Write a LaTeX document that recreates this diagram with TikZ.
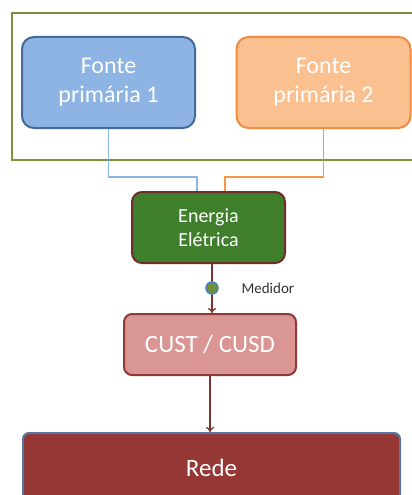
\documentclass[tikz,border=0pt]{standalone}
\usepackage{fontspec}
\setmainfont{Carlito}
\usetikzlibrary{arrows.meta}
\definecolor{fonteumfill}{HTML}{8EB4E3}
\definecolor{fonteumdraw}{HTML}{44699B}
\definecolor{fontedoisfill}{HTML}{FAC090}
\definecolor{fontedoisdraw}{HTML}{F38B3F}
\definecolor{quadroverde}{HTML}{77933C}
\definecolor{energiafill}{HTML}{3F7F2C}
\definecolor{energiadraw}{HTML}{6E2E2A}
\definecolor{custfill}{HTML}{D99694}
\definecolor{custdraw}{HTML}{8C3B38}
\definecolor{redefill}{HTML}{953735}
\definecolor{rededraw}{HTML}{5A76A0}
\definecolor{medidorfill}{HTML}{6F8F3A}
\definecolor{medidordraw}{HTML}{4F81BD}
\definecolor{linhaazul}{HTML}{8EB4E3}
\definecolor{linhalaranja}{HTML}{F79646}
\definecolor{seta}{HTML}{7A3431}
\tikzset{
    caixa/.style={rounded corners=12pt, line width=2pt, text=white, align=center, inner sep=0pt},
    seta/.style={draw=seta, line width=1.3pt, -{To[length=5pt,width=8pt]}}
}
\begin{document}
\begin{tikzpicture}[x=1pt, y=-1pt]
    \clip (0,0) rectangle (412,495);
    \fill[white] (0,0) rectangle (412,495);
    \draw[quadroverde, line width=2pt] (12,13) rectangle (430,160);
    \node[caixa, fill=fonteumfill, draw=fonteumdraw, minimum width=173pt, minimum height=91pt,
        font=\fontsize{24}{29}\selectfont] (fonte1) at (108.5,82.5) {Fonte\\primária 1};
    \node[caixa, fill=fontedoisfill, draw=fontedoisdraw, minimum width=174pt, minimum height=91pt,
        font=\fontsize{24}{29}\selectfont] (fonte2) at (323.5,82.5) {Fonte\\primária 2};
    \node[caixa, rounded corners=10pt, fill=energiafill, draw=energiadraw, minimum width=153pt, minimum height=71pt,
        font=\fontsize{20}{24}\selectfont] (energia) at (208.5,227.5) {Energia\\Elétrica};
    \node[caixa, rounded corners=8pt, fill=custfill, draw=custdraw, minimum width=172pt, minimum height=61pt,
        font=\fontsize{25}{30}\selectfont] (cust) at (210,344.5) {CUST / CUSD};
    \node[caixa, rounded corners=6pt, fill=redefill, draw=rededraw, minimum width=377pt, minimum height=70pt,
        font=\fontsize{25}{30}\selectfont] (rede) at (211.5,468) {Rede};
    \coordinate (entradaum) at ([xshift=-11.5pt]energia.north);
    \coordinate (entradadois) at ([xshift=16.5pt]energia.north);
    \draw[linhaazul, line width=1.5pt] (fonte1.south) -- ++(0,48) -| (entradaum);
    \draw[linhalaranja, line width=1.5pt] (fonte2.south) -- ++(0,48) -| (entradadois);
    \draw[seta] ([xshift=3.5pt]energia.south) -- ([xshift=2pt]cust.north);
    \draw[seta] (cust.south) -- (cust.south |- rede.north);
    \node[circle, fill=medidorfill, draw=medidordraw, line width=1.5pt, minimum size=12pt, inner sep=0pt] (medidor) at (212,288) {};
    \node[anchor=west, text=black!80, font=\fontsize{15}{18}\selectfont] (medidortexto) at (238,288) {Medidor};
\end{tikzpicture}
\end{document}
